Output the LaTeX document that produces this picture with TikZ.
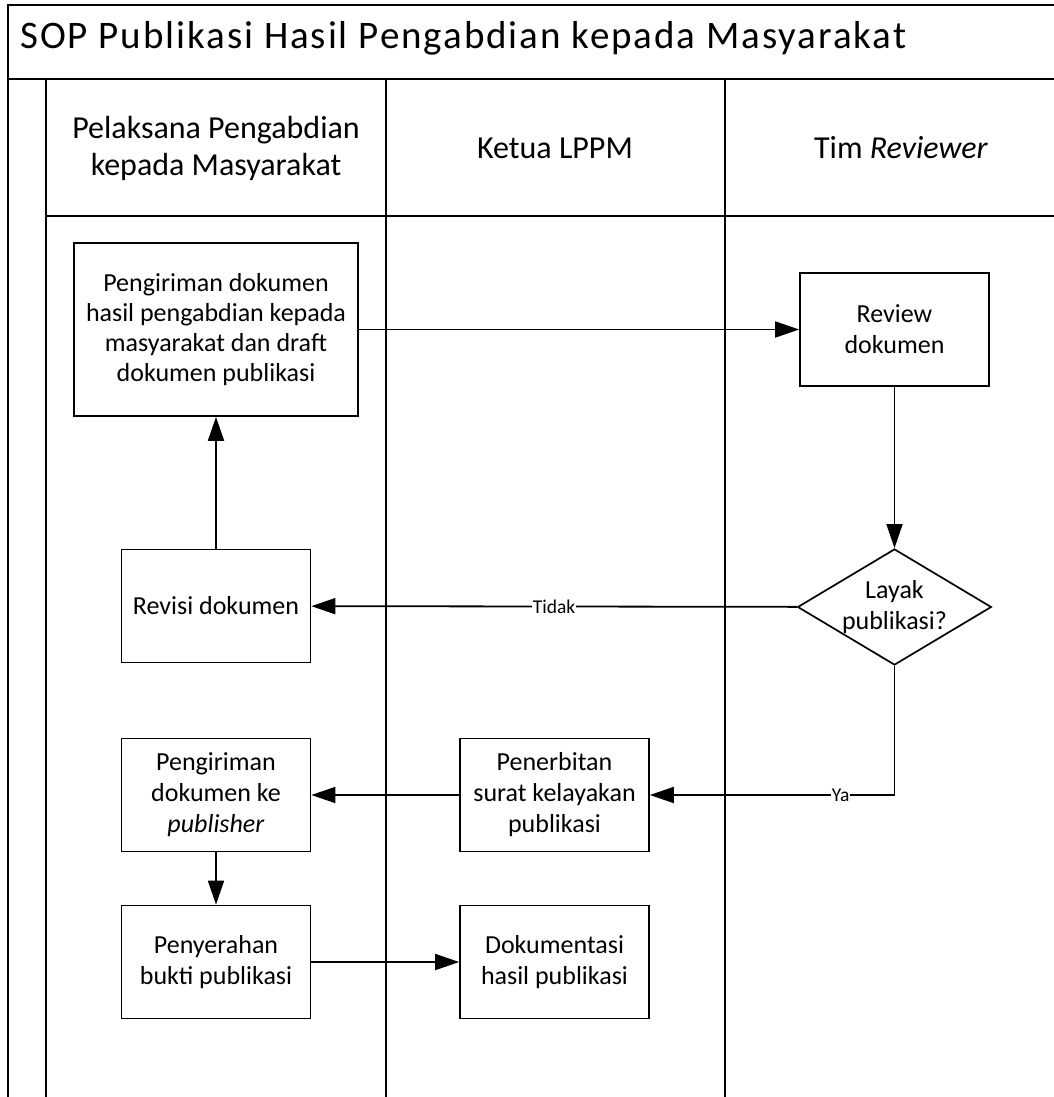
\documentclass[tikz,border=0pt]{standalone}
\usepackage{fontspec}
\setmainfont{Carlito}
\newfontfamily\titlefont{Carlito}[LetterSpace=5]
\usetikzlibrary{shapes.geometric, positioning, arrows.meta, calc}

\begin{document}
\begin{tikzpicture}[
      x=1pt, y=-1pt,
      lane/.style={line width=2.2pt},
      block/.style={
        draw,
        line width=1.7pt,
        minimum width=189pt,
        minimum height=113pt,
        align=center,
        font=\fontsize{26}{31}\selectfont,
      },
      decision/.style={
        diamond,
        draw,
        line width=1.7pt,
        aspect=1.67,
        inner sep=0pt,
        minimum width=190pt,
        minimum height=114pt,
        align=center,
        font=\fontsize{26}{31}\selectfont,
      },
      lanehead/.style={align=center, font=\fontsize{32}{37}\selectfont},
      flow/.style={line width=1.8pt, -{Triangle[length=24pt,width=16pt]}},
      answer/.style={fill=white, inner sep=1pt, font=\fontsize{19.5}{21}\selectfont},
      ]
      \useasboundingbox (0,0) rectangle (1054,1097);
      % frame and lanes
      \draw[lane] (1054,5) -| (8,1097);
      \draw[lane] (8,79) -- (1054,79);
      \draw[lane] (46,79) -- (46,1097);
      \draw[lane] (46,216) -- (1054,216);
      \draw[lane] (386,79) -- (386,1097);
      \draw[lane] (725,79) -- (725,1097);
      \node[anchor=base west, inner sep=0pt, font=\titlefont\fontsize{39}{40}\selectfont] (judul) at (20,49) {SOP Publikasi Hasil Pengabdian kepada Masyarakat};
      \node[lanehead] (pelaksana) at (216,148) {Pelaksana Pengabdian\\kepada Masyarakat};
      \node[lanehead] (ketua) at (555,148) {Ketua LPPM};
      \node[lanehead] (tim) at (901,148) {Tim \textit{Reviewer}};
      % steps
      \node[block, minimum width=284pt, minimum height=173pt, font=\fontsize{26}{30}\selectfont] (kirim) at (216,329.5) {Pengiriman dokumen\\hasil pengabdian kepada\\masyarakat dan draft\\dokumen publikasi};
      \node[block] (review) at (894.5,329.5) {Review\\dokumen};
      \node[decision] (layak) at (894.5,607) {Layak\\publikasi?};
      \node[block] (revisi) at (216,606) {Revisi dokumen};
      \node[block] (terbit) at (554.5,795) {Penerbitan\\surat kelayakan\\publikasi};
      \node[block] (publisher) at (216,795) {Pengiriman\\dokumen ke\\\textit{publisher}};
      \node[block] (serah) at (216,962) {Penyerahan\\bukti publikasi};
      \node[block] (dokum) at (554.5,962) {Dokumentasi\\hasil publikasi};
      \draw[flow] (kirim) -- (review);
      \draw[flow] (review) -- (layak);
      \draw[flow] (layak) -- node[answer] {Tidak} (revisi);
      \draw[flow] (layak) |- node[answer, pos=0.61] {Ya} (terbit);
      \draw[flow] (revisi) -- (kirim);
      \draw[flow] (terbit) -- (publisher);
      \draw[flow] (publisher) -- (serah);
      \draw[flow] (serah) -- (dokum);
    \end{tikzpicture}
\end{document}
